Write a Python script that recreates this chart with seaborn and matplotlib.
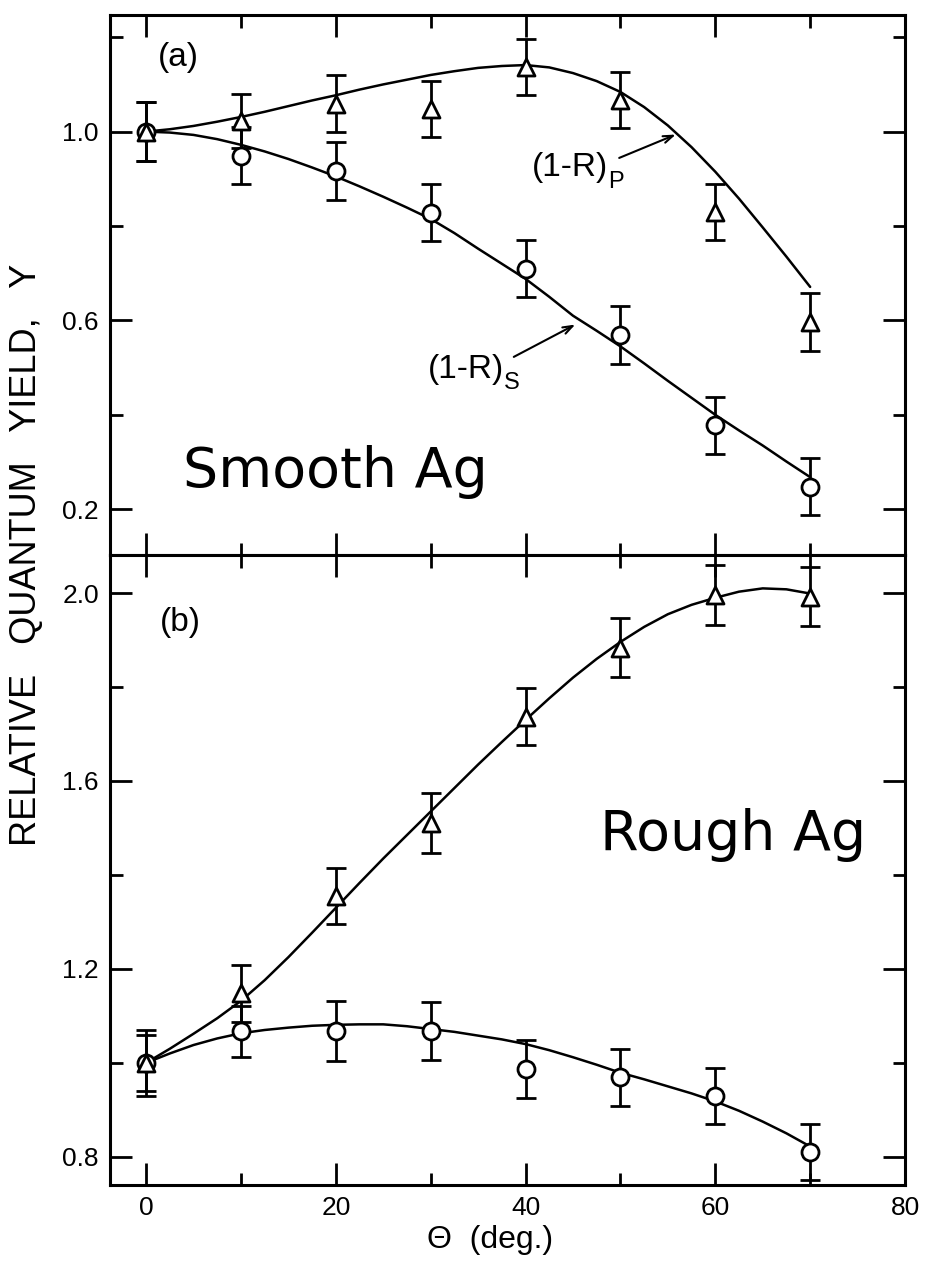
import numpy as np
import pandas as pd
import matplotlib
matplotlib.use("Agg")
import matplotlib.pyplot as plt
import seaborn as sns
from matplotlib.ticker import MultipleLocator, FixedLocator

# measured points (angle of incidence, relative yield, error)
theta = [0, 10, 20, 30, 40, 50, 60, 70]

smooth_s = [1.000, 0.949, 0.917, 0.828, 0.710, 0.569, 0.378, 0.248]
smooth_s_err = [0.062, 0.060, 0.062, 0.060, 0.060, 0.062, 0.060, 0.060]
smooth_p = [1.000, 1.023, 1.059, 1.048, 1.137, 1.067, 0.830, 0.597]
smooth_p_err = [0.062, 0.057, 0.060, 0.060, 0.060, 0.060, 0.060, 0.062]

rough_s = [1.000, 1.067, 1.068, 1.068, 0.987, 0.969, 0.930, 0.810]
rough_s_err = [0.060, 0.055, 0.064, 0.061, 0.061, 0.061, 0.060, 0.060]
rough_p = [1.000, 1.148, 1.355, 1.510, 1.737, 1.884, 1.996, 1.992]
rough_p_err = [0.070, 0.060, 0.060, 0.064, 0.060, 0.063, 0.063, 0.063]

# fitted curves
curve_theta = [0, 2.5, 5, 7.5, 10, 12.5, 15, 17.5, 20, 22.5, 25, 27.5, 30,
               32.5, 35, 37.5, 40, 42.5, 45, 47.5, 50, 52.5, 55, 57.5, 60,
               62.5, 65, 67.5, 70]
smooth_s_curve = [1.000, 0.998, 0.993, 0.984, 0.972, 0.958, 0.942, 0.924,
                  0.905, 0.884, 0.862, 0.839, 0.815, 0.785, 0.752, 0.720,
                  0.688, 0.650, 0.610, 0.578, 0.545, 0.509, 0.472, 0.436,
                  0.400, 0.367, 0.335, 0.301, 0.268]
smooth_p_curve = [1.000, 1.005, 1.012, 1.021, 1.031, 1.042, 1.054, 1.066,
                  1.077, 1.089, 1.100, 1.110, 1.120, 1.128, 1.135, 1.139,
                  1.141, 1.136, 1.124, 1.107, 1.084, 1.052, 1.013, 0.967,
                  0.915, 0.858, 0.797, 0.735, 0.671]
rough_s_curve = [1.000, 1.020, 1.038, 1.052, 1.063, 1.070, 1.075, 1.079,
                 1.081, 1.082, 1.082, 1.078, 1.072, 1.066, 1.058, 1.050,
                 1.040, 1.027, 1.012, 0.996, 0.979, 0.965, 0.950, 0.935,
                 0.918, 0.898, 0.875, 0.850, 0.822]
rough_p_curve = [1.000, 1.030, 1.062, 1.095, 1.132, 1.176, 1.225, 1.277,
                 1.330, 1.383, 1.435, 1.485, 1.535, 1.585, 1.635, 1.683,
                 1.730, 1.776, 1.820, 1.860, 1.896, 1.928, 1.955, 1.975,
                 1.990, 2.003, 2.010, 2.008, 1.999]

sns.set_style("ticks")
plt.rcParams['font.family'] = ['Liberation Sans', 'DejaVu Sans']
plt.rcParams.update({'text.color': 'black', 'axes.labelcolor': 'black',
                     'xtick.color': 'black', 'ytick.color': 'black',
                     'axes.edgecolor': 'black'})

fig = plt.figure(figsize=(9.27, 12.62), dpi=100)
ax1 = fig.add_axes([0.1187, 0.5602, 0.8576, 0.4279])
ax2 = fig.add_axes([0.1187, 0.0610, 0.8576, 0.4992])


def draw_panel(ax, s, s_err, p, p_err, s_curve, p_curve):
    curves = pd.DataFrame({'theta': curve_theta, 's': s_curve, 'p': p_curve})
    sns.lineplot(data=curves, x='theta', y='s', ax=ax, color='black', lw=1.8)
    sns.lineplot(data=curves, x='theta', y='p', ax=ax, color='black', lw=1.8)
    for y, err, mk in [(s, s_err, 'o'), (p, p_err, '^')]:
        ax.errorbar(theta, y, yerr=err, fmt='none', ecolor='black',
                    elinewidth=2.0, capsize=7, capthick=2.0, zorder=3)
        pts = pd.DataFrame({'theta': theta, 'y': y})
        sns.scatterplot(data=pts, x='theta', y='y', ax=ax, marker=mk, s=150,
                        facecolor='white', edgecolor='black', linewidth=2.0,
                        zorder=4)


draw_panel(ax1, smooth_s, smooth_s_err, smooth_p, smooth_p_err,
           smooth_s_curve, smooth_p_curve)
draw_panel(ax2, rough_s, rough_s_err, rough_p, rough_p_err,
           rough_s_curve, rough_p_curve)

ax1.set_ylim(0.103, 1.247)
ax2.set_ylim(0.740, 2.081)
for ax in (ax1, ax2):
    ax.set_xlim(-3.8, 80)
    ax.set_xlabel('')
    ax.set_ylabel('')
    ax.xaxis.set_major_locator(MultipleLocator(20))
    ax.xaxis.set_minor_locator(MultipleLocator(10))
    for sp in ax.spines.values():
        sp.set_visible(True)
        sp.set_linewidth(2.2)
        sp.set_color('black')
    ax.tick_params(which='both', direction='in', top=True, right=True,
                   width=2.0, labelsize=19, pad=8, colors='black')
    ax.tick_params(which='major', length=16)
    ax.tick_params(which='minor', length=9)

ax1.yaxis.set_major_locator(FixedLocator([0.2, 0.6, 1.0]))
ax1.yaxis.set_minor_locator(FixedLocator([0.4, 0.8, 1.2]))
ax1.set_yticklabels(['0.2', '0.6', '1.0'])
ax1.tick_params(labelbottom=False)

ax2.yaxis.set_major_locator(FixedLocator([0.8, 1.2, 1.6, 2.0]))
ax2.yaxis.set_minor_locator(FixedLocator([1.0, 1.4, 1.8]))
ax2.set_yticklabels(['0.8', '1.2', '1.6', '2.0'])

# panel labels
ax1.text(1.2, 1.157, '(a)', fontsize=24, va='center', ha='left')
ax2.text(1.5, 1.938, '(b)', fontsize=24, va='center', ha='left')

# curve labels with arrows
arrow = dict(arrowstyle='->,head_length=0.7,head_width=0.25', lw=1.5,
             color='black')
ax1.text(48.7, 0.925, '(1-R)', fontsize=24, ha='right', va='center')
ax1.text(48.7, 0.893, 'P', fontsize=17, ha='left', va='center')
ax1.annotate('', xy=(56.1, 0.996), xytext=(49.6, 0.942), arrowprops=arrow)
ax1.text(37.7, 0.497, '(1-R)', fontsize=24, ha='right', va='center')
ax1.text(37.7, 0.467, 'S', fontsize=17, ha='left', va='center')
ax1.annotate('', xy=(45.5, 0.594), xytext=(38.5, 0.520), arrowprops=arrow)

# sample names
ax1.text(3.9, 0.247, 'Smooth Ag', fontsize=40, ha='left', va='baseline',
         family=['DejaVu Sans'])
ax2.text(47.8, 1.453, 'Rough Ag', fontsize=40, ha='left', va='baseline',
         family=['DejaVu Sans'])

fig.text(27 / 927, 1 - 555 / 1262, 'RELATIVE   QUANTUM   YIELD,   Y',
         rotation=90, fontsize=26, ha='center', va='center')
fig.text(490 / 927, 1 - 1240 / 1262, '\u0398  (deg.)', fontsize=23,
         ha='center', va='center')

fig.savefig('out.png', dpi=100)
